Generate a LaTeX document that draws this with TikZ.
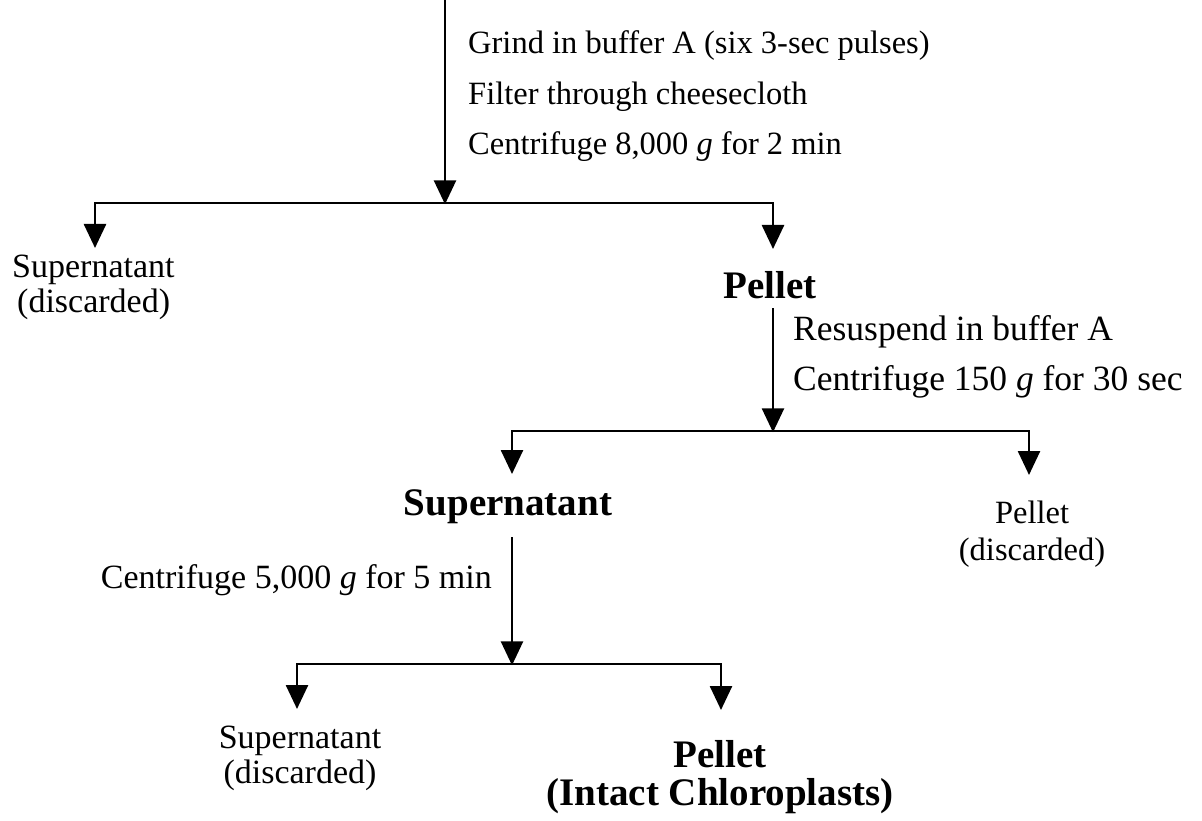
\documentclass[tikz,border=0pt]{standalone}
\usepackage{fontspec}
\setmainfont{Liberation Serif}
\usetikzlibrary{arrows.meta}
\begin{document}
\begin{tikzpicture}[x=1pt,y=-1pt,
  arr/.style={line width=2.6pt,-{Triangle[width=22pt,length=24pt]}},
  small/.style={inner sep=0pt,font=\fontsize{32.5}{38}\selectfont},
  mid/.style={inner sep=0pt,font=\fontsize{34}{40}\selectfont},
  midr/.style={inner sep=0pt,font=\fontsize{35.5}{42}\selectfont},
  big/.style={inner sep=0pt,font=\fontsize{39}{46}\selectfont\bfseries}]
\useasboundingbox (0,0) rectangle (1202,821);

% texts
\node[small,anchor=base west] (g1) at (468,54) {Grind in buffer A (six 3-sec pulses)};
\node[small,anchor=base west] (g2) at (468,105) {Filter through cheesecloth};
\node[small,anchor=base west] (g3) at (468,155) {Centrifuge 8,000 \textit{g} for 2 min};

\node[mid,anchor=base west] (s1a) at (12,277) {Supernatant};
\node[mid,anchor=base west] (s1b) at (17,312) {(discarded)};

\node[big,anchor=base] (p1) at (770,298) {Pellet};
\node[midr,anchor=base west] (r1) at (793,340) {Resuspend in buffer A};
\node[midr,anchor=base west] (r2) at (793,390) {Centrifuge 150 \textit{g} for 30 sec};

\node[big,anchor=base] (s2) at (508,515) {Supernatant};
\node[small,anchor=base] (p2a) at (1032,523) {Pellet};
\node[small,anchor=base] (p2b) at (1032,560) {(discarded)};

\node[mid,anchor=base east] (c3) at (492,588) {Centrifuge 5,000 \textit{g} for 5 min};

\node[mid,anchor=base] (s3a) at (300,748) {Supernatant};
\node[mid,anchor=base] (s3b) at (300,783) {(discarded)};
\node[big,anchor=base] (p3a) at (720,767) {Pellet};
\node[big,anchor=base] (p3b) at (720,805) {(Intact Chloroplasts)};

% connector points
\coordinate (a0) at (445,0);
\coordinate (j1) at (445,203);
\coordinate (t1l) at (95,248);
\coordinate (t1r) at (773,249);
\coordinate (a1) at (773,308);
\coordinate (j2) at (773,431);
\coordinate (t2l) at (512,474);
\coordinate (t2r) at (1029,475);
\coordinate (a2) at (512,537);
\coordinate (j3) at (512,664);
\coordinate (t3l) at (297,709);
\coordinate (t3r) at (721,710);

\draw[arr] (a0) -- ([yshift=-1.3pt]j1);
\draw[arr] (j1) -| (t1l);
\draw[arr] (j1) -| (t1r);
\draw[arr] (a1) -- ([yshift=-1.3pt]j2);
\draw[arr] (j2) -| (t2l);
\draw[arr] (j2) -| (t2r);
\draw[arr] (a2) -- ([yshift=-1.3pt]j3);
\draw[arr] (j3) -| (t3l);
\draw[arr] (j3) -| (t3r);
\end{tikzpicture}
\end{document}
